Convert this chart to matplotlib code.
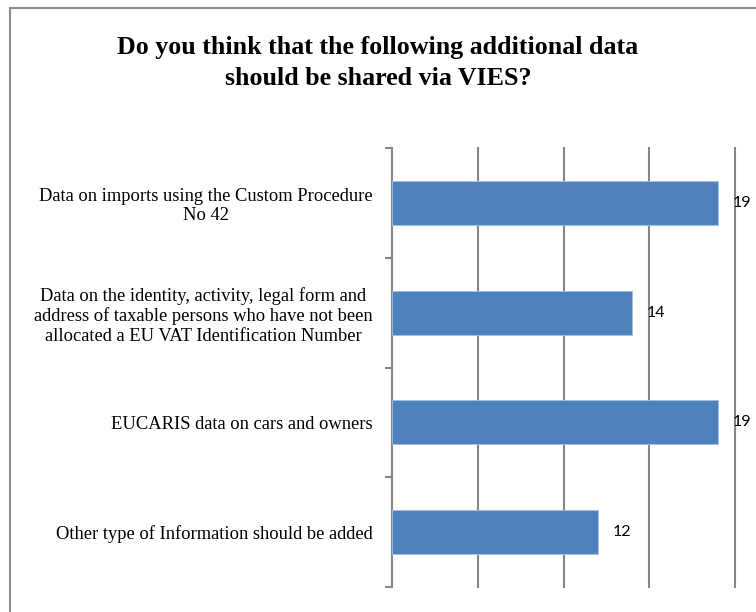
import matplotlib
matplotlib.use("Agg")
import matplotlib.pyplot as plt
from matplotlib.patches import Rectangle
from matplotlib.ticker import FixedLocator, NullFormatter

categories = [
    "Data on imports using the Custom Procedure\nNo 42",
    "Data on the identity, activity, legal form and\naddress of taxable persons who have not been\nallocated a EU VAT Identification Number",
    "EUCARIS data on cars and owners",
    "Other type of Information should be added",
]
values = [19, 14, 19, 12]
title = "Do you think that the following additional data\nshould be shared via VIES?"

bar_color = "#4F81BD"
grid_color = "#868686"

fig = plt.figure(figsize=(7.56, 6.12), dpi=100)
fig.patch.set_facecolor("white")

# outer chart frame (runs off the right and bottom edges)
frame = Rectangle((10 / 756, -0.05), 1.2, 1 - 8 / 612 + 0.05,
                  transform=fig.transFigure, fill=False,
                  edgecolor="#8c8c8c", linewidth=1.5, zorder=0)
fig.patches.append(frame)

ax = fig.add_axes([392 / 756, 1 - 587 / 612, (735 - 392) / 756, (587 - 148) / 612])

n = len(categories)
ypos = list(range(n))
ax.barh(ypos, values, height=0.4, color=bar_color, edgecolor="#a7bfde",
        linewidth=0.6, zorder=3)
ax.set_xlim(0, 20)
ax.set_ylim(n - 0.5, -0.5)

# vertical gridlines
gridlines = [5, 10, 15, 20]
ax.set_xticks(gridlines)
ax.tick_params(axis="x", length=0, labelbottom=False)
for g in gridlines:
    ax.axvline(g, color=grid_color, linewidth=1.5, zorder=0, clip_on=False)

# category labels and separator ticks
ax.set_yticks(ypos)
ax.set_yticklabels(categories, fontfamily="Liberation Serif", fontsize=13.3,
                   multialignment="center", linespacing=1.2)
ax.tick_params(axis="y", which="major", length=0, pad=14)
ax.yaxis.set_minor_locator(FixedLocator([i - 0.5 for i in range(n + 1)]))
ax.yaxis.set_minor_formatter(NullFormatter())
ax.tick_params(axis="y", which="minor", length=5, width=1.5, color=grid_color)

for side in ["top", "right", "bottom"]:
    ax.spines[side].set_visible(False)
ax.spines["left"].set_color(grid_color)
ax.spines["left"].set_linewidth(1.5)

# value labels
for y, v in zip(ypos, values):
    ax.annotate(str(v), xy=(v, y), xytext=(15, 0), textcoords="offset pixels",
                va="center", ha="left", fontsize=11.5, fontfamily="Lato",
                color="black")

fig.text(378 / 756, 1 - 63 / 612, title, ha="center", va="center",
         fontfamily="Liberation Serif", fontweight="bold", fontsize=18.7,
         linespacing=1.45)

fig.savefig("out.png", dpi=100)
